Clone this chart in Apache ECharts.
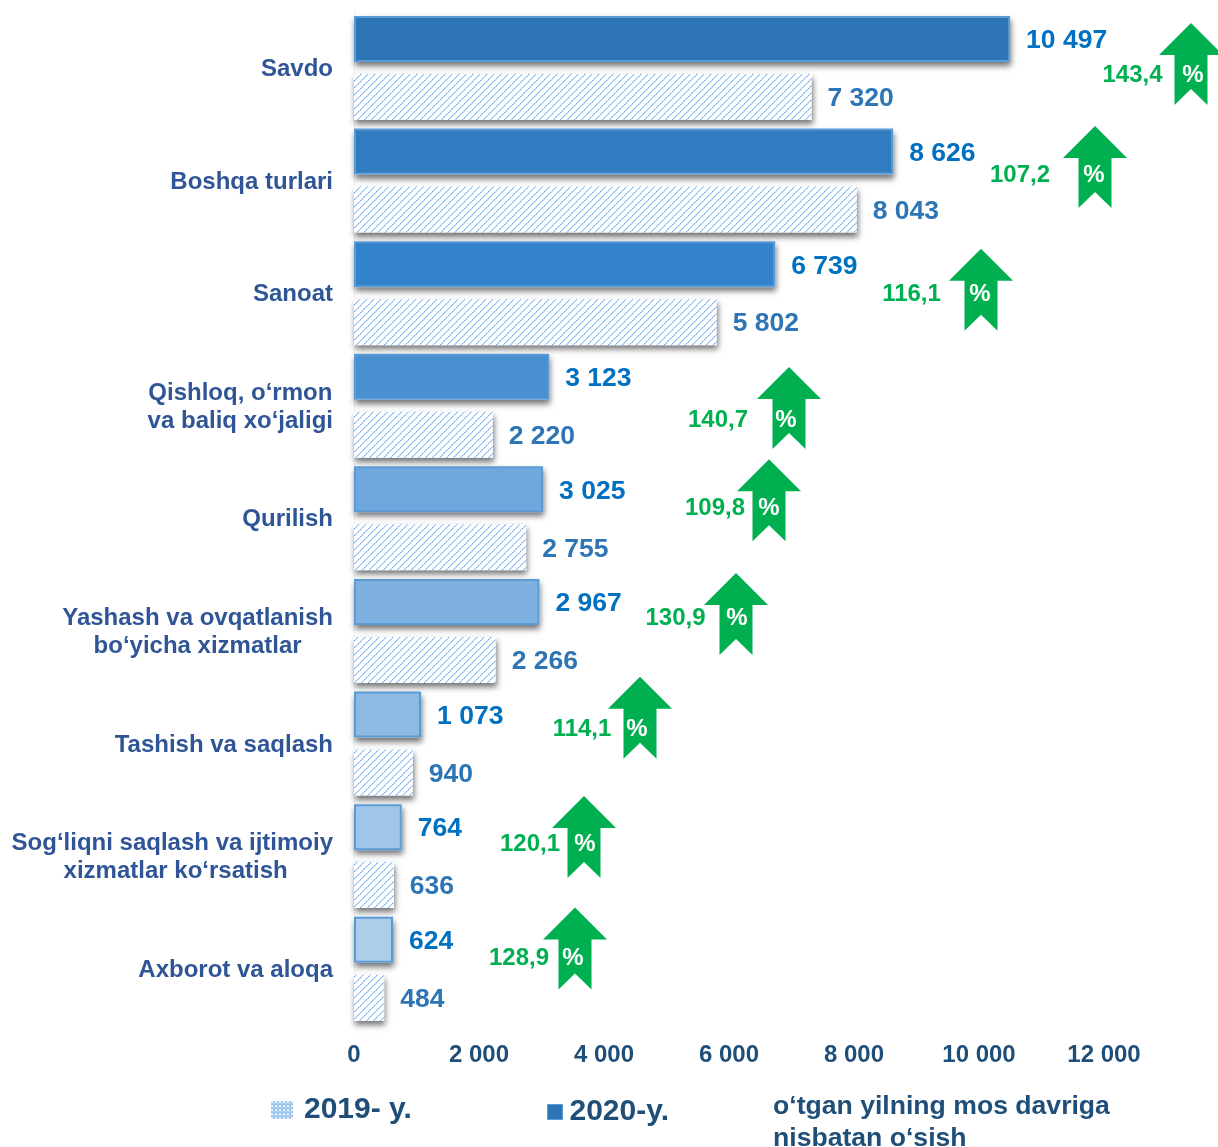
<!DOCTYPE html>
<html>
<head>
<meta charset="utf-8">
<title>Savdo</title>
<script src="https://cdn.jsdelivr.net/npm/echarts@6/dist/echarts.min.js"></script>
<style>
html, body { margin: 0; padding: 0; background: #fff; overflow: hidden; }
#main { width: 1218px; height: 1147px; }
</style>
</head>
<body>
<div id="main"></div>
<script>
var categories = ['Savdo', 'Boshqa turlari', 'Sanoat', 'Qishloq, o‘rmon\nva baliq xo‘jaligi', 'Qurilish',
	'Yashash va ovqatlanish\nbo‘yicha xizmatlar', 'Tashish va saqlash',
	'Sog‘liqni saqlash va ijtimoiy\n xizmatlar ko‘rsatish', 'Axborot va aloqa'];
var values2020 = [10497, 8626, 6739, 3123, 3025, 2967, 1073, 764, 624];
var values2019 = [7320, 8043, 5802, 2220, 2755, 2266, 940, 636, 484];
var growth = ['143,4', '107,2', '116,1', '140,7', '109,8', '130,9', '114,1', '120,1', '128,9'];
/* arrow and growth label places, in axis units */
var arrowX = [13392, 11856, 10032, 6960, 6640, 6112, 4576, 3680, 3536];
var percentX = [13424, 11840, 10016, 6912, 6640, 6128, 4528, 3696, 3504];
var growthX = [12456, 10656, 8920, 5824, 5776, 5144, 3648, 2816, 2640];
var arrowRow = [0.465, 1.38, 2.47, 3.52, 4.34, 5.35, 6.27, 7.33, 8.32];
var growthRow = [0.565, 1.45, 2.51, 3.63, 4.41, 5.39, 6.37, 7.40, 8.41];
var barColors = ['#2e75b6', '#317bc0', '#3282cc', '#4a8fd0', '#6fa8dc', '#7fb1e0', '#8db9e3', '#9fc6e8', '#aecdeb'];

function FnSpace(val) {
	return String(val).replace(/\B(?=(\d{3})+$)/g, ' ');
}

/* diagonal dotted hatch of the 2019 bars */
function FnHatch() {
	var size = 14;
	var c = document.createElement('canvas');
	c.width = size;
	c.height = size;
	var ctx = c.getContext('2d');
	ctx.fillStyle = '#ffffff';
	ctx.fillRect(0, 0, size, size);
	for (var y = 0; y < size; y++) {
		for (var x = 0; x < size; x++) {
			var d = (x + y) % 7;
			if (d == 0) {
				ctx.fillStyle = x % 2 == 0 ? '#6fa8e6' : '#a6cbf0';
				ctx.fillRect(x, y, 1, 1);
			} else if (d == 1) {
				ctx.fillStyle = '#d4e6f7';
				ctx.fillRect(x, y, 1, 1);
			}
		}
	}
	return c;
}

/* small check used by the legend swatch */
function FnCheck() {
	var c = document.createElement('canvas');
	c.width = 4;
	c.height = 4;
	var ctx = c.getContext('2d');
	ctx.fillStyle = '#9cc3ea';
	ctx.fillRect(0, 0, 4, 4);
	ctx.fillStyle = '#e6f0fa';
	ctx.fillRect(0, 0, 2, 2);
	ctx.fillRect(2, 2, 1, 1);
	return c;
}

var font = '"Liberation Sans", Arial, sans-serif';
var arrowPath = 'path://M32 0L64 32L48.5 32L48.5 82L32 66L15.5 82L15.5 32L0 32Z';
var hatch = { image: FnHatch(), repeat: 'repeat' };
var barShadow = {
	color: '#ffffff', shadowColor: 'rgba(0,0,0,0.55)', shadowBlur: 6, shadowOffsetX: 1, shadowOffsetY: 4
};

var arrowData = arrowX.map(function (x, i) { return [x, arrowRow[i]]; });
var percentData = percentX.map(function (x, i) { return [x, growthRow[i]]; });
var growthData = growthX.map(function (x, i) { return [x, growthRow[i], growth[i]]; });

var chart = echarts.init(document.getElementById('main'));
chart.setOption({
	animation: false,
	backgroundColor: '#ffffff',
	grid: { left: 354, width: 750, top: 11.7, height: 1013.3, containLabel: false },
	legend: [{
		left: 266, top: 1090, itemWidth: 22, itemHeight: 18, itemGap: 11,
		selectedMode: false,
		textStyle: { fontFamily: font, fontWeight: 'bold', fontSize: 30, color: '#1f4e79', padding: [0, 0, 0, 6] },
		data: [{ name: '2019- y.', icon: 'rect', itemStyle: { color: { image: FnCheck(), repeat: 'repeat' } } }]
	}, {
		left: 542, top: 1092, itemWidth: 15, itemHeight: 15, itemGap: 7,
		selectedMode: false,
		textStyle: { fontFamily: font, fontWeight: 'bold', fontSize: 30, color: '#1f4e79', padding: [0, 0, 0, 2] },
		data: [{ name: '2020-y.', icon: 'rect', itemStyle: { borderWidth: 1 } }]
	}],
	xAxis: {
		type: 'value', min: 0, max: 12000, interval: 2000,
		axisLine: { show: false }, axisTick: { show: false }, splitLine: { show: false },
		axisLabel: {
			margin: 18.5, fontFamily: font, fontWeight: 'bold', fontSize: 24, color: '#1f4e79',
			formatter: function (val) { return FnSpace(val); }
		}
	},
	yAxis: [{
		type: 'category', inverse: true, data: categories,
		axisLine: { show: true, lineStyle: { color: '#efefef', width: 1 } },
		axisTick: { show: false },
		axisLabel: {
			margin: 21, align: 'right', padding: [3, 0, 0, 0],
			formatter: function (val) {
				return val.split('\n').map(function (s) { return '{c|' + s + '}'; }).join('\n');
			},
			rich: { c: { align: 'center', fontFamily: font, fontWeight: 'bold', fontSize: 24, lineHeight: 28, color: '#2f5597' } }
		}
	}, {
		/* row scale for the arrows, one unit per category */
		type: 'value', min: 0, max: 9, inverse: true, show: false
	}, {
		/* same bands again so the drawn bars sit above their shadows */
		type: 'category', inverse: true, data: categories, show: false
	}],
	series: [{
		name: 'shadow2020', type: 'bar', barWidth: 46, barGap: '26%', yAxisIndex: 0, z: 1, silent: true,
		data: values2020, itemStyle: barShadow
	}, {
		name: 'shadow2019', type: 'bar', barWidth: 46, yAxisIndex: 0, z: 1, silent: true,
		data: values2019, itemStyle: barShadow
	}, {
		name: '2020-y.', type: 'bar', barWidth: 46, barGap: '26%', yAxisIndex: 2, z: 2,
		data: values2020.map(function (v, i) {
			return { value: v, itemStyle: { color: barColors[i] } };
		}),
		itemStyle: { color: '#2e75b6', borderColor: '#5b9bd5', borderWidth: 2 },
		label: {
			show: true, position: 'right', distance: 16, offset: [0, 2],
			fontFamily: font, fontWeight: 'bold', fontSize: 26.5, color: '#0070c0',
			formatter: function (p) { return FnSpace(p.value); }
		}
	}, {
		name: '2019- y.', type: 'bar', barWidth: 46, yAxisIndex: 2, z: 2,
		data: values2019,
		itemStyle: { color: hatch },
		label: {
			show: true, position: 'right', distance: 16, offset: [0, 2],
			fontFamily: font, fontWeight: 'bold', fontSize: 26.5, color: '#2e75b6',
			formatter: function (p) { return FnSpace(p.value); }
		}
	}, {
		name: 'arrow', type: 'scatter', yAxisIndex: 1, clip: false, z: 5,
		symbol: arrowPath, symbolSize: [64, 82],
		itemStyle: { color: '#00b050', opacity: 1 },
		data: arrowData
	}, {
		name: 'percent', type: 'scatter', yAxisIndex: 1, clip: false, z: 6,
		symbolSize: 0, data: percentData,
		itemStyle: { opacity: 1 },
		label: {
			show: true, position: 'inside', formatter: '%',
			fontFamily: font, fontWeight: 'bold', fontSize: 24, color: '#ffffff'
		}
	}, {
		name: 'growth', type: 'scatter', yAxisIndex: 1, clip: false, z: 6,
		symbolSize: 0, data: growthData,
		itemStyle: { opacity: 1 },
		label: {
			show: true, position: 'inside',
			formatter: function (p) { return p.value[2]; },
			fontFamily: font, fontWeight: 'bold', fontSize: 24, color: '#00b050'
		}
	}],
	graphic: [{
		type: 'text', left: 773, top: 1090,
		style: {
			text: 'o‘tgan yilning mos davriga\nnisbatan o‘sish',
			font: 'bold 26.6px ' + font, lineHeight: 32.5, fill: '#1f4e79'
		}
	}]
});
</script>
</body>
</html>
